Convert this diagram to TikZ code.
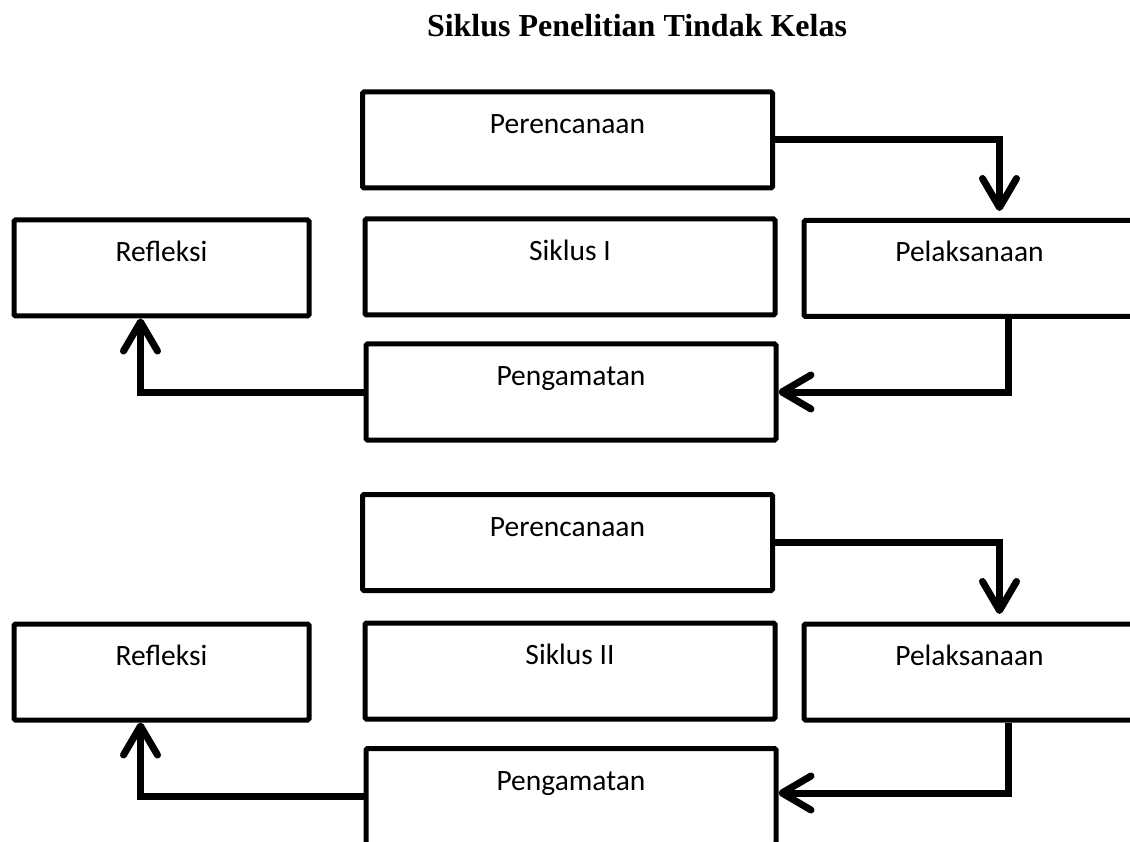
\documentclass[tikz,border=0pt]{standalone}
\usepackage{fontspec}
\setmainfont{Liberation Serif}
\newfontfamily\calibri{Carlito}
\usetikzlibrary{arrows.meta}
\begin{document}
\begin{tikzpicture}[x=1pt,y=-1pt,
  box/.style={draw=black, line width=5pt, rounded corners=1.5pt, fill=white,
    inner sep=0pt, minimum height=96pt, text height=41.5pt, text depth=54.5pt,
    font=\calibri\fontsize{29.5}{35}\selectfont},
  colL/.style={box, minimum width=295pt},
  colM/.style={box, minimum width=410pt},
  colR/.style={box, minimum width=331pt},
  conn/.style={line width=7pt, line join=miter,
    -{Straight Barb[length=29pt, width=34pt, round]}},
  ttl/.style={font=\bfseries\fontsize{32}{38}\selectfont, inner sep=0pt, anchor=base}
]
\useasboundingbox (0,0) rectangle (1130,842);
\clip (0,0) rectangle (1130,842);
\fill[white] (0,0) rectangle (1130,842);

\node[ttl] (title) at (637,37) {Siklus Penelitian Tindak Kelas};

% cycle I
\node[colM] (P1)   at (567.5,140)  {Perencanaan};
\node[colL] (R1)   at (161.5,268)  {Refleksi};
\node[colM] (S1)   at (570,267)    {Siklus I};
\node[colR] (L1)   at (969.5,268.5){Pelaksanaan};
\node[colM] (G1)   at (571,392)    {Pengamatan};

% cycle II
\node[colM] (P2)   at (567.5,542.5){Perencanaan};
\node[colL] (R2)   at (161.5,672)  {Refleksi};
\node[colM] (S2)   at (570,671)    {Siklus II};
\node[colR] (L2)   at (969.5,672)  {Pelaksanaan};
\node[colM] (G2)   at (571,796.5)  {Pengamatan};

\coordinate (xb) at (1008,0);
\coordinate (xc) at (140.5,0);
\coordinate (t1) at (999.5,211);
\coordinate (t2) at (999.5,614);

% connectors cycle I
\draw[conn] (P1.east) -| (t1);
\draw[conn] (L1.south -| xb) |- (G1.east);
\draw[conn] (G1.west) -| (R1.south -| xc);

% connectors cycle II
\draw[conn] (P2.east) -| (t2);
\draw[conn] (L2.south -| xb) |- ([yshift=3.5pt]G2.east);
\draw[conn] (G2.west) -| (R2.south -| xc);
\end{tikzpicture}
\end{document}
